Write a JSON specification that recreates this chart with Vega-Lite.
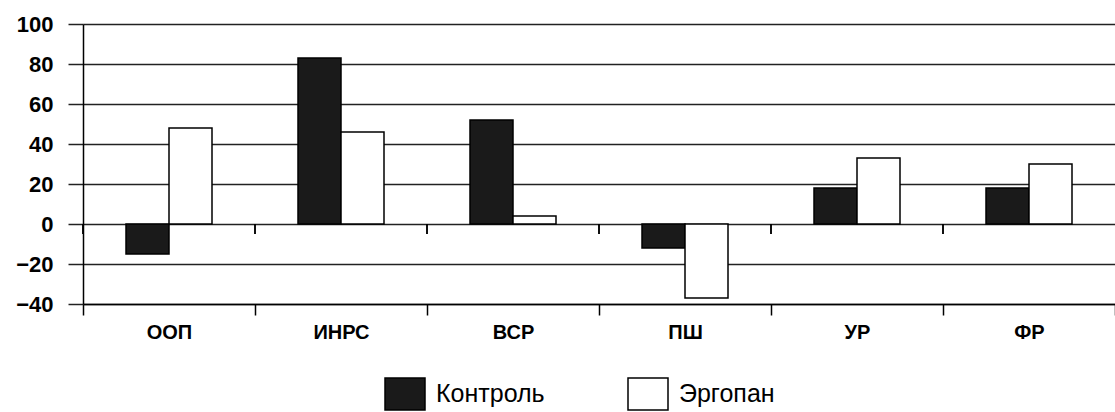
{
  "$schema": "https://vega.github.io/schema/vega-lite/v6.json",
  "width": 1032,
  "height": 280,
  "autosize": {"type": "none"},
  "padding": {"left": 83, "top": 24, "right": 0, "bottom": 108},
  "background": "white",
  "config": {
    "view": {"stroke": null},
    "font": "Liberation Sans",
    "axisY": {
      "title": null, "values": [-40, -20, 0, 20, 40, 60, 80, 100], "tickCount": 8, "labelOverlap": false,
      "tickSize": 15, "tickColor": "#222", "tickWidth": 1.5, "labelPadding": 15,
      "grid": true, "gridColor": "#222", "gridWidth": 1.5, "gridOpacity": 1,
      "domainColor": "black", "domainWidth": 1.5,
      "labelFontWeight": "bold", "labelFontSize": 22, "labelColor": "black"
    }
  },
  "data": {
    "values": [
      {"cat": "ООП", "grp": "Контроль", "value": -15},
      {"cat": "ООП", "grp": "Эргопан", "value": 48},
      {"cat": "ИНРС", "grp": "Контроль", "value": 83},
      {"cat": "ИНРС", "grp": "Эргопан", "value": 46},
      {"cat": "ВСР", "grp": "Контроль", "value": 52},
      {"cat": "ВСР", "grp": "Эргопан", "value": 4},
      {"cat": "ПШ", "grp": "Контроль", "value": -12},
      {"cat": "ПШ", "grp": "Эргопан", "value": -37},
      {"cat": "УР", "grp": "Контроль", "value": 18},
      {"cat": "УР", "grp": "Эргопан", "value": 33},
      {"cat": "ФР", "grp": "Контроль", "value": 18},
      {"cat": "ФР", "grp": "Эргопан", "value": 30}
    ]
  },
  "layer": [
    {
      "mark": {"type": "bar", "stroke": "black", "strokeWidth": 1.5},
      "encoding": {
        "x": {
          "field": "cat", "type": "nominal",
          "sort": ["ООП", "ИНРС", "ВСР", "ПШ", "УР", "ФР"],
          "scale": {"paddingInner": 0, "paddingOuter": 0},
          "axis": {
            "title": null, "labelAngle": 0, "labelFontWeight": "bold", "labelFontSize": 20,
            "labelColor": "black", "labelPadding": 7, "tickBand": "extent", "tickSize": 11,
            "tickColor": "black", "tickWidth": 1.5, "domainColor": "black", "domainWidth": 1.5, "grid": false
          }
        },
        "xOffset": {"field": "grp", "type": "nominal", "sort": ["Контроль", "Эргопан"], "scale": {"paddingInner": 0, "paddingOuter": 1.2}},
        "y": {
          "field": "value", "type": "quantitative",
          "scale": {"domain": [-40, 100], "nice": false}
        },
        "fill": {
          "field": "grp", "type": "nominal",
          "scale": {"domain": ["Контроль", "Эргопан"], "range": ["#1a1a1a", "#ffffff"]},
          "legend": {
            "title": null, "orient": "none", "direction": "horizontal",
            "legendX": 305, "legendY": 353,
            "symbolType": "M-1.25,-1H1.25V1H-1.25Z", "symbolSize": 1024,
            "symbolStrokeColor": "black", "symbolStrokeWidth": 1.5,
            "labelFontSize": 25, "labelColor": "black", "labelOffset": 14,
            "columnPadding": 80
          }
        }
      }
    },
    {
      "mark": {"type": "rule", "color": "black", "strokeWidth": 1.5},
      "encoding": {
        "x": {"field": "cat", "type": "nominal", "sort": ["ООП", "ИНРС", "ВСР", "ПШ", "УР", "ФР"], "bandPosition": 0},
        "y": {"datum": 0},
        "y2": {"datum": -5}
      }
    }
  ]
}
